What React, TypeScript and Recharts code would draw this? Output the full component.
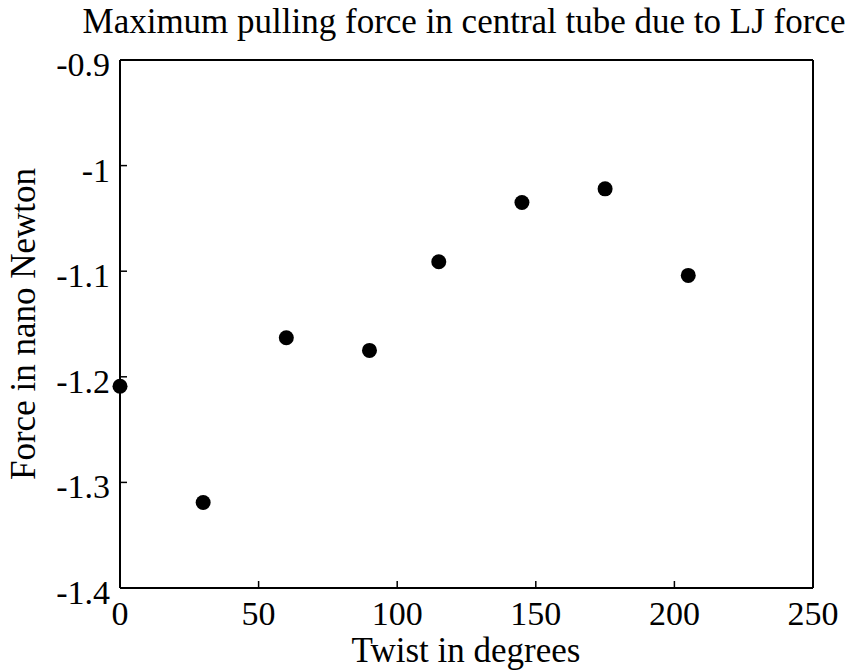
import { ScatterChart, Scatter, XAxis, YAxis } from 'recharts'

const twistDeg = [0, 30, 60, 90, 115, 145, 175, 205]
const forceNN = [-1.209, -1.319, -1.163, -1.175, -1.091, -1.035, -1.022, -1.104]
const xTicks = [0, 50, 100, 150, 200, 250]
const yTicks = [-1.4, -1.3, -1.2, -1.1, -1, -0.9]

const titleText = 'Maximum pulling force in central tube due to LJ force'
const xLabelText = 'Twist in degrees'
const yLabelText = 'Force in nano Newton'

const FONT = '"Liberation Serif", "Times New Roman", serif'
const TICK_FS = 34
const LABEL_FS = 35

const data = twistDeg.map((t, i) => ({ twist: t, force: forceNN[i] }))

const fmtY = (v: number) => String(Math.round(v * 10) / 10)

function LeftTick(props: any) {
  const { x, y, payload } = props
  return (
    <text x={x} y={y + 16} textAnchor="end" fontFamily={FONT} fontSize={TICK_FS} fill="#000">
      {fmtY(payload.value)}
    </text>
  )
}

function BottomTick(props: any) {
  const { x, y, payload } = props
  return (
    <text x={x} y={y + 27} textAnchor="middle" fontFamily={FONT} fontSize={TICK_FS} fill="#000">
      {payload.value}
    </text>
  )
}

const noTick = () => null

function Dot(props: any) {
  const { cx, cy } = props
  return <circle cx={cx} cy={cy} r={7.5} fill="#000" />
}

const axisLine = { stroke: '#000', strokeWidth: 2 }
const tickLine = { stroke: '#000', strokeWidth: 1.5 }

export default function App() {
  return (
    <div style={{ position: 'absolute', left: 0, top: 0, width: 846, height: 671, background: '#fff' }}>
      <div
        style={{
          position: 'absolute',
          left: 64,
          top: 4,
          width: 800,
          textAlign: 'center',
          fontFamily: FONT,
          fontSize: LABEL_FS,
          lineHeight: `${LABEL_FS}px`,
          whiteSpace: 'nowrap',
          color: '#000',
        }}
      >
        {titleText}
      </div>
      <ScatterChart width={846} height={671} margin={{ top: 0, right: 0, bottom: 0, left: 0 }}>
        <XAxis
          xAxisId="bottom"
          dataKey="twist"
          type="number"
          domain={[0, 250]}
          ticks={xTicks}
          interval={0}
          orientation="bottom"
          height={83}
          tickSize={-7}
          tickMargin={17}
          axisLine={axisLine}
          tickLine={tickLine}
          tick={BottomTick}
          label={{
            content: () => (
              <text x={466} y={662} textAnchor="middle" fontFamily={FONT} fontSize={LABEL_FS} fill="#000">
                {xLabelText}
              </text>
            ),
          }}
        />
        <XAxis
          xAxisId="top"
          dataKey="twist"
          type="number"
          domain={[0, 250]}
          ticks={xTicks}
          interval={0}
          orientation="top"
          height={60}
          tickSize={-7}
          axisLine={axisLine}
          tickLine={tickLine}
          tick={noTick}
        />
        <YAxis
          yAxisId="left"
          dataKey="force"
          type="number"
          domain={[-1.4, -0.9]}
          ticks={yTicks}
          interval={0}
          orientation="left"
          width={120}
          tickSize={-7}
          tickMargin={17}
          axisLine={axisLine}
          tickLine={tickLine}
          tick={LeftTick}
          label={{
            content: () => (
              <text
                x={35}
                y={324}
                transform="rotate(-90 35 324)"
                textAnchor="middle"
                fontFamily={FONT}
                fontSize={LABEL_FS}
                fill="#000"
              >
                {yLabelText}
              </text>
            ),
          }}
        />
        <YAxis
          yAxisId="right"
          dataKey="force"
          type="number"
          domain={[-1.4, -0.9]}
          ticks={yTicks}
          interval={0}
          orientation="right"
          width={33}
          tickSize={-7}
          axisLine={axisLine}
          tickLine={tickLine}
          tick={noTick}
        />
        <Scatter
          data={data}
          xAxisId="bottom"
          yAxisId="left"
          fill="#000"
          shape={Dot}
          isAnimationActive={false}
        />
      </ScatterChart>
    </div>
  )
}
